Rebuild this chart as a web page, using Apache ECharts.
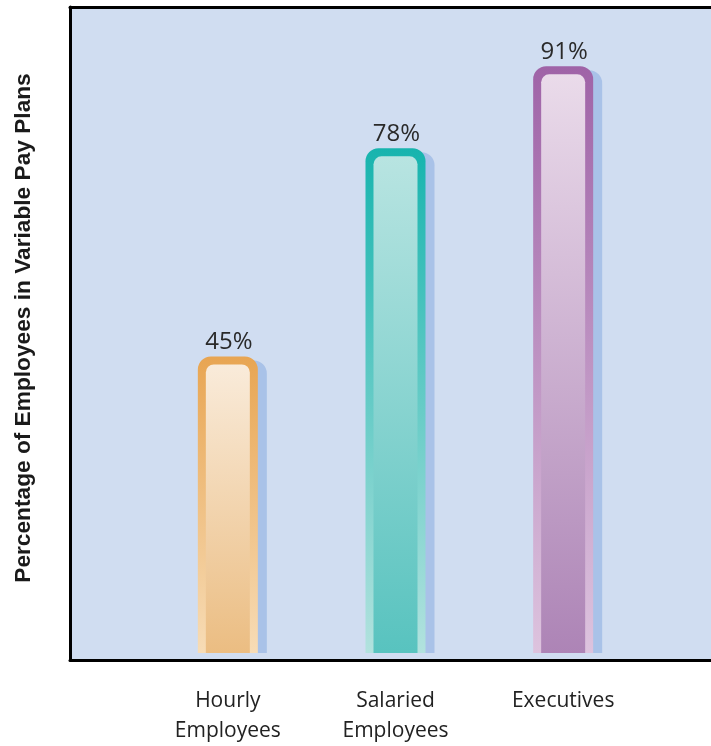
<!DOCTYPE html>
<html>
<head>
<meta charset="utf-8">
<script src="https://cdn.jsdelivr.net/npm/echarts@6/dist/echarts.min.js"></script>
<style>
html,body{margin:0;padding:0;background:#fff;}
#chart{width:711px;height:746px;}
</style>
</head>
<body>
<div id="chart"></div>
<script>
const categories = ['Hourly\nEmployees', 'Salaried\nEmployees', 'Executives'];
const values = [45, 78, 91];
const valueLabels = ['45%', '78%', '91%'];
const yTitle = 'Percentage of Employees in Variable Pay Plans';

const Y_MIN = -2;
const Y_MAX = 100.4;
const palette = [
  { bt: '#e8a552', bb: '#f7dcb6', it: '#f9ebda', ib: '#ebbd82' },
  { bt: '#17b4ae', bb: '#b2e2de', it: '#b8e4e1', ib: '#58c3bf' },
  { bt: '#9f63a7', bb: '#ddc3de', it: '#eadbea', ib: '#ad84b6' }
];

const chart = echarts.init(document.getElementById('chart'));

function grad(a, b) {
  return new echarts.graphic.LinearGradient(0, 0, 0, 1, [
    { offset: 0, color: a }, { offset: 1, color: b }
  ]);
}

chart.setOption({
  animation: false,
  grid: [
    { left: 70, right: 0, top: 7, bottom: 86, show: true, backgroundColor: '#d0ddf1', borderWidth: 0 },
    { left: 144, right: 64, top: 7, bottom: 86 }
  ],
  xAxis: [
    { gridIndex: 0, type: 'value', position: 'bottom', min: 0, max: 1, z: 10,
      axisLine: { show: true, lineStyle: { color: '#000', width: 3 } },
      axisTick: { show: false }, axisLabel: { show: false }, splitLine: { show: false } },
    { gridIndex: 0, type: 'value', position: 'top', min: 0, max: 1, z: 10,
      axisLine: { show: true, lineStyle: { color: '#000', width: 3 } },
      axisTick: { show: false }, axisLabel: { show: false }, splitLine: { show: false } },
    { gridIndex: 1, type: 'category', data: categories,
      axisLine: { show: false }, axisTick: { show: false },
      axisLabel: { color: '#222', fontSize: 21, lineHeight: 30, margin: 33, fontFamily: 'Open Sans' } }
  ],
  yAxis: [
    { gridIndex: 0, type: 'value', min: 0, max: 1, z: 10,
      axisLine: { show: true, lineStyle: { color: '#000', width: 3 } },
      axisTick: { show: false }, axisLabel: { show: false }, splitLine: { show: false } },
    { gridIndex: 1, type: 'value', min: Y_MIN, max: Y_MAX, show: false }
  ],
  graphic: [
    { type: 'text', x: 24, y: 328, rotation: Math.PI / 2,
      style: { text: yTitle, font: 'bold 22.7px "Liberation Sans Narrow", "Liberation Sans", sans-serif',
        fill: '#1a1a1a', textAlign: 'center', textVerticalAlign: 'middle' } }
  ],
  series: [{
    type: 'custom',
    xAxisIndex: 2, yAxisIndex: 1,
    data: values.map((v, i) => [i, v]),
    renderItem: function (params, api) {
      const idx = api.value(0), val = api.value(1);
      const top = api.coord([idx, val]);
      const base = api.coord([idx, Y_MIN]);
      const w = 60, b = 8;
      const x0 = top[0] - w / 2, y0 = top[1], h = base[1] - y0;
      const c = palette[idx];
      return {
        type: 'group',
        children: [
          { type: 'rect', shape: { x: x0 + 9, y: y0 + 4, width: w, height: h - 4, r: [13, 13, 0, 0] },
            style: { fill: '#a9c2e8' } },
          { type: 'rect', shape: { x: x0, y: y0, width: w, height: h, r: [13, 13, 0, 0] },
            style: { fill: grad(c.bt, c.bb) } },
          { type: 'rect', shape: { x: x0 + b, y: y0 + b, width: w - 2 * b, height: h - b, r: [8, 8, 0, 0] },
            style: { fill: grad(c.it, c.ib) } },
          { type: 'text', x: top[0] + 1, y: y0 - 14,
            style: { text: valueLabels[idx], font: '24px "Open Sans", sans-serif', fill: '#2a2a2a',
              textAlign: 'center', textVerticalAlign: 'middle' } }
        ]
      };
    }
  }]
});
</script>
</body>
</html>
